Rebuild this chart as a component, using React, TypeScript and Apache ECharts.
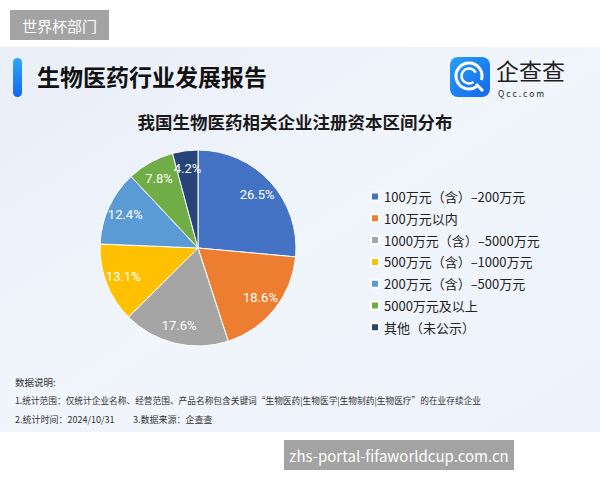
import React, { useEffect, useRef } from "react";
import * as echarts from "echarts";

const categories = [
  "100万元（含）–200万元",
  "100万元以内",
  "1000万元（含）–5000万元",
  "500万元（含）–1000万元",
  "200万元（含）–500万元",
  "5000万元及以上",
  "其他（未公示）",
];
const values = [26.5, 18.6, 17.6, 13.1, 12.4, 7.8, 4.2];
const colors = ["#4472c4", "#ed7d31", "#a5a5a5", "#ffc000", "#5b9bd5", "#70ad47", "#264478"];

const FONT = '"Noto Sans CJK SC", "Noto Sans", sans-serif';

export default function App() {
  const ref = useRef<HTMLDivElement>(null);
  useEffect(() => {
    if (!ref.current) return;
    const chart = echarts.init(ref.current, undefined, { renderer: "svg" });
    const data = categories.map((name, i) => ({
      name,
      value: values[i],
      itemStyle: { color: colors[i] },
    }));
    chart.setOption({
      animation: false,
      backgroundColor: "#ffffff",
      textStyle: { fontFamily: FONT },
      title: {
        text: "我国生物医药相关企业注册资本区间分布",
        left: 290,
        textAlign: "center",
        top: 108,
        textStyle: { fontSize: 17.5, fontWeight: "bold", color: "#1a1a1a", fontFamily: FONT },
      },
      legend: {
        orient: "vertical",
        left: 365,
        top: 185,
        itemWidth: 8,
        itemHeight: 8,
        itemGap: 8.8,
        icon: "rect",
        textStyle: { fontSize: 13, color: "#222", fontFamily: FONT },
        data: categories.map((name, i) => ({ name, itemStyle: { color: colors[i] } })),
        selectedMode: false,
      },
      graphic: [
        {
          type: "rect",
          shape: { x: 0, y: 47, width: 600, height: 385 },
          style: {
            fill: new echarts.graphic.LinearGradient(0, 0, 1, 1, [
              { offset: 0, color: "#e9eef7" },
              { offset: 0.5, color: "#f1f5fc" },
              { offset: 1, color: "#edf2fb" },
            ]),
          },
          z: -10,
        },
        {
          type: "rect",
          shape: { x: 10, y: 10, width: 99, height: 30 },
          style: { fill: "#a3a3a3" },
        },
        {
          type: "text",
          x: 59.5,
          y: 25,
          style: {
            text: "世界杯部门",
            fill: "#ffffff",
            fontSize: 15,
            fontFamily: FONT,
            align: "center",
            verticalAlign: "middle",
          },
        },
        {
          type: "rect",
          shape: { x: 13, y: 58, width: 9, height: 39, r: 4.5 },
          style: {
            fill: new echarts.graphic.LinearGradient(0, 0, 0, 1, [
              { offset: 0, color: "#2fa6f7" },
              { offset: 1, color: "#1466ee" },
            ]),
          },
        },
        {
          type: "text",
          x: 37,
          y: 76,
          style: {
            text: "生物医药行业发展报告",
            fill: "#111111",
            fontSize: 23,
            fontWeight: "bold",
            fontFamily: FONT,
            verticalAlign: "middle",
          },
        },
        {
          type: "rect",
          shape: { x: 450, y: 57, width: 40, height: 40, r: 8 },
          style: {
            fill: new echarts.graphic.LinearGradient(0, 0, 1, 1, [
              { offset: 0, color: "#27a0f5" },
              { offset: 1, color: "#1466ee" },
            ]),
          },
        },
        {
          type: "arc",
          shape: { cx: 469, cy: 76, r: 13, startAngle: Math.PI * 0.3, endAngle: Math.PI * 2.1 },
          style: { stroke: "#ffffff", lineWidth: 3, fill: "none" },
        },
        {
          type: "arc",
          shape: { cx: 469, cy: 76, r: 7.5, startAngle: Math.PI * 0.3, endAngle: Math.PI * 1.85 },
          style: { stroke: "#ffffff", lineWidth: 2.5, fill: "none" },
        },
        {
          type: "line",
          shape: { x1: 476, y1: 84, x2: 483, y2: 91 },
          style: { stroke: "#ffffff", lineWidth: 3 },
        },
        {
          type: "text",
          x: 496,
          y: 70,
          style: {
            text: "企查查",
            fill: "#1f1f1f",
            fontSize: 23,
            lineHeight: 23,
            fontFamily: FONT,
            verticalAlign: "middle",
          },
        },
        {
          type: "text",
          x: 498,
          y: 93,
          style: {
            text: "Q c c . c o m",
            fill: "#1f1f1f",
            fontSize: 8.5,
            lineHeight: 9,
            fontFamily: FONT,
            verticalAlign: "middle",
          },
        },
        {
          type: "text",
          x: 15,
          y: 382,
          style: { text: "数据说明:", fill: "#333", fontSize: 9.5, fontFamily: FONT, verticalAlign: "middle" },
        },
        {
          type: "text",
          x: 15,
          y: 400,
          style: {
            text: "1.统计范围：仅统计企业名称、经营范围、产品名称包含关键词“生物医药|生物医学|生物制药|生物医疗”的在业存续企业",
            fill: "#333",
            fontSize: 8.7,
            fontFamily: FONT,
            verticalAlign: "middle",
          },
        },
        {
          type: "text",
          x: 15,
          y: 419,
          style: { text: "2.统计时间：2024/10/31", fill: "#333", fontSize: 9, fontFamily: FONT, verticalAlign: "middle" },
        },
        {
          type: "text",
          x: 133,
          y: 419,
          style: { text: "3.数据来源：企查查", fill: "#333", fontSize: 9, fontFamily: FONT, verticalAlign: "middle" },
        },
        {
          type: "rect",
          shape: { x: 284, y: 440, width: 230, height: 30 },
          style: { fill: "#a3a3a3" },
        },
        {
          type: "text",
          x: 399,
          y: 455,
          style: {
            text: "zhs-portal-fifaworldcup.com.cn",
            fill: "#ffffff",
            fontSize: 15,
            fontFamily: FONT,
            align: "center",
            verticalAlign: "middle",
          },
        },
      ],
      series: [
        {
          type: "pie",
          center: [198, 248],
          radius: [0, 98],
          startAngle: 90,
          clockwise: true,
          data,
          label: { show: false },
          labelLine: { show: false },
          itemStyle: { borderColor: "#ffffff", borderWidth: 1 },
          emphasis: { disabled: true },
        },
        {
          type: "pie",
          center: [198, 248],
          radius: [0, 154],
          startAngle: 90,
          clockwise: true,
          silent: true,
          avoidLabelOverlap: false,
          minShowLabelAngle: 0,
          data: categories.map((name, i) => ({ name, value: values[i] })),
          itemStyle: { color: "rgba(0,0,0,0)", borderWidth: 0 },
          label: {
            show: true,
            position: "inside",
            formatter: "{c}%",
            color: "#ffffff",
            fontSize: 13,
            fontFamily: "Roboto, sans-serif",
          },
          labelLine: { show: false },
          labelLayout: { hideOverlap: false },
          emphasis: { disabled: true },
          z: 3,
        },
      ],
    });
    return () => chart.dispose();
  }, []);
  return (
    <div
      ref={ref}
      style={{ position: "fixed", left: 0, top: 0, width: 600, height: 480 }}
    />
  );
}
